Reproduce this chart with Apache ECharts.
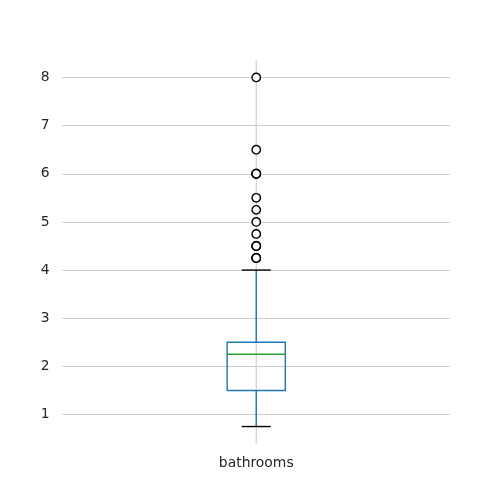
<!DOCTYPE html>
<html>
<head>
<meta charset="utf-8">
<script src="https://cdn.jsdelivr.net/npm/echarts@6/dist/echarts.min.js"></script>
<style>html,body{margin:0;padding:0;background:#fff;}#c{width:500px;height:500px;}</style>
</head>
<body>
<div id="c"></div>
<script>
const categories = ['bathrooms'];
const whiskerLow = [0.75];
const q1 = [1.5];
const median = [2.25];
const q3 = [2.5];
const whiskerHigh = [4.0];
const outliers = [8.0, 6.5, 6.0, 6.0, 6.0, 5.5, 5.25, 5.0, 4.75, 4.5, 4.5, 4.5, 4.25, 4.25, 4.25];
const yTicks = [1, 2, 3, 4, 5, 6, 7, 8];
const yMin = 0.3875;
const yMax = 8.3625;

const boxData = categories.map((c, i) => [i, whiskerLow[i], q1[i], median[i], q3[i], whiskerHigh[i]]);
const outlierData = outliers.map(v => [0, v]);

const chart = echarts.init(document.getElementById('c'), null, {renderer: 'canvas'});
const textColor = '#262626';
chart.setOption({
  animation: false,
  backgroundColor: '#ffffff',
  grid: {left: 62.5, right: 50, top: 60, bottom: 56, containLabel: false},
  xAxis: {
    type: 'category',
    data: categories,
    boundaryGap: true,
    axisLine: {show: false},
    axisTick: {show: false},
    splitLine: {show: false},
    axisLabel: {color: textColor, fontFamily: 'DejaVu Sans', fontSize: 13.9, margin: 12}
  },
  yAxis: {
    type: 'value',
    min: yMin,
    max: yMax,
    axisLine: {show: false},
    axisTick: {show: false, customValues: yTicks},
    axisLabel: {color: textColor, fontFamily: 'DejaVu Sans', fontSize: 13.9, margin: 13, customValues: yTicks},
    splitLine: {show: true, lineStyle: {color: '#cccccc', width: 1.1}}
  },
  series: [
    {
      type: 'custom',
      data: boxData,
      z: 2,
      renderItem: function (params, api) {
        const x = api.value(0);
        const pLow = api.coord([x, api.value(1)]);
        const pQ1 = api.coord([x, api.value(2)]);
        const pMed = api.coord([x, api.value(3)]);
        const pQ3 = api.coord([x, api.value(4)]);
        const pHigh = api.coord([x, api.value(5)]);
        const pTop = api.coord([x, yMax]);
        const pBot = api.coord([x, yMin]);
        const full = api.size([1, 0])[0];
        const bw = full * 0.15;
        const cw = bw / 2;
        const cx = pMed[0];
        const blue = '#1f77b4';
        return {
          type: 'group',
          children: [
            {type: 'line', shape: {x1: cx, y1: pTop[1], x2: cx, y2: pBot[1]}, style: {stroke: '#cccccc', lineWidth: 1.1}},
            {type: 'rect', shape: {x: cx - bw / 2, y: pQ3[1], width: bw, height: pQ1[1] - pQ3[1]}, style: {fill: 'none', stroke: blue, lineWidth: 1.4}},
            {type: 'line', shape: {x1: cx, y1: pQ3[1], x2: cx, y2: pHigh[1]}, style: {stroke: blue, lineWidth: 1.4}},
            {type: 'line', shape: {x1: cx, y1: pQ1[1], x2: cx, y2: pLow[1]}, style: {stroke: blue, lineWidth: 1.4}},
            {type: 'line', shape: {x1: cx - cw / 2, y1: pHigh[1], x2: cx + cw / 2, y2: pHigh[1]}, style: {stroke: '#000000', lineWidth: 1.4}},
            {type: 'line', shape: {x1: cx - cw / 2, y1: pLow[1], x2: cx + cw / 2, y2: pLow[1]}, style: {stroke: '#000000', lineWidth: 1.4}},
            {type: 'line', shape: {x1: cx - bw / 2, y1: pMed[1], x2: cx + bw / 2, y2: pMed[1]}, style: {stroke: '#2ca02c', lineWidth: 1.4}}
          ]
        };
      }
    },
    {
      type: 'scatter',
      data: outlierData,
      z: 3,
      symbol: 'circle',
      symbolSize: 8.4,
      itemStyle: {color: '#ffffff', borderColor: '#000000', borderWidth: 1.4, opacity: 1}
    }
  ]
});
</script>
</body>
</html>
